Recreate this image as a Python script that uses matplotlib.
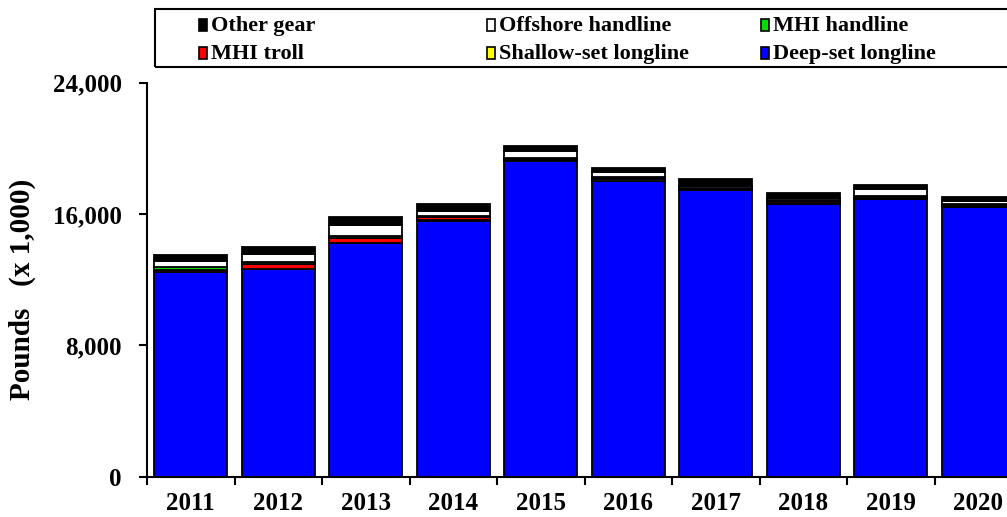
import numpy as np
import matplotlib
matplotlib.use("Agg")
import matplotlib.pyplot as plt
from matplotlib.patches import Rectangle

plt.rcParams['font.family'] = ['Liberation Serif', 'DejaVu Serif']
plt.rcParams['font.weight'] = 'bold'

years = ['2011', '2012', '2013', '2014', '2015', '2016', '2017', '2018', '2019', '2020']

# pounds x 1,000
deep_set = [12450, 12650, 14250, 15600, 19230, 18030, 17440, 16590, 16930, 16440]
shallow_set = [0, 0, 0, 50, 50, 80, 100, 100, 60, 60]
mhi_troll = [150, 300, 300, 150, 80, 100, 40, 80, 50, 70]
mhi_handline = [150, 100, 100, 100, 50, 60, 30, 80, 60, 60]
offshore_handline = [400, 500, 650, 300, 450, 280, 100, 150, 450, 130]
other_gear = [350, 450, 500, 400, 300, 270, 400, 260, 200, 250]

series = [
    ("Deep-set longline", deep_set, "#0000FF"),
    ("Shallow-set longline", shallow_set, "#FFFF00"),
    ("MHI troll", mhi_troll, "#FF0000"),
    ("MHI handline", mhi_handline, "#00DD00"),
    ("Offshore handline", offshore_handline, "#FFFFFF"),
    ("Other gear", other_gear, "#000000"),
]

fig = plt.figure(figsize=(10.07, 5.17), dpi=100)
ax = fig.add_axes([147 / 1007, 40.5 / 517, 875 / 1007, 393.8 / 517])

x = np.arange(len(years))
bottom = np.zeros(len(years))
for name, vals, col in series:
    vals = np.array(vals, dtype=float)
    ax.bar(x, vals, bottom=bottom, width=0.83, color=col, edgecolor='black', linewidth=1.3)
    bottom += vals

ax.set_xlim(-0.5, len(years) - 0.5)
ax.set_ylim(0, 24000)
ax.set_yticks([0, 8000, 16000, 24000])
ax.set_yticklabels(['0', '8,000', '16,000', '24,000'])
ax.set_xticks(x)
ax.set_xticklabels(years)
ax.set_xticks(np.arange(len(years) + 1) - 0.5, minor=True)
ax.tick_params(axis='y', direction='out', length=6, width=1.5, pad=12, labelsize=18)
ax.tick_params(axis='x', which='major', length=0, pad=11, labelsize=18)
ax.tick_params(axis='x', which='minor', direction='out', length=6, width=1.5)
for t in ax.get_xticklabels() + ax.get_yticklabels():
    t.set_fontweight('bold')
ax.spines['top'].set_visible(False)
ax.spines['right'].set_visible(False)
ax.spines['left'].set_linewidth(1.5)
ax.spines['bottom'].set_linewidth(1.5)
ax.set_ylabel('Pounds   (x 1,000)', fontsize=21, fontweight='bold')
ax.yaxis.set_label_coords(-0.127, 0.475)

# legend box, drawn by hand so the columns sit where the original has them
fig.patches.append(Rectangle((155 / 1007, (517 - 67) / 517), 900 / 1007, 58 / 517,
                             transform=fig.transFigure, fill=False, edgecolor='black', linewidth=1.5))
leg_items = [
    ("Other gear", "#000000", 199, 25),
    ("Offshore handline", "#FFFFFF", 487, 25),
    ("MHI handline", "#00DD00", 761, 25),
    ("MHI troll", "#FF0000", 199, 53),
    ("Shallow-set longline", "#FFFF00", 487, 53),
    ("Deep-set longline", "#0000FF", 761, 53),
]
for name, col, px, py in leg_items:
    fig.patches.append(Rectangle((px / 1007, (517 - py - 6) / 517), 8 / 1007, 12 / 517,
                                 transform=fig.transFigure, facecolor=col, edgecolor='black', linewidth=1.2))
    fig.text((px + 12) / 1007, (517 - py - 1) / 517, name, fontsize=16, fontweight='bold', va='center', ha='left')

fig.savefig('out.png', dpi=100)
